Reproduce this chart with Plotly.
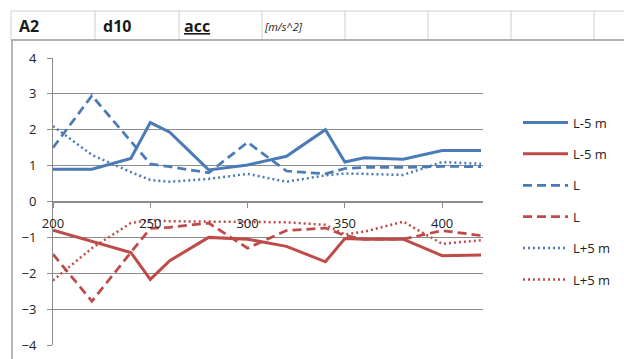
import plotly.graph_objects as go

# Sample positions along the track
x_pos = [200, 220, 240, 250, 260, 280, 300, 320, 340, 350, 360, 380, 400, 420]

# Acceleration [m/s^2] per series
blue_minus5 = [0.9, 0.9, 1.2, 2.2, 1.93, 0.88, 1.02, 1.26, 2.0, 1.1, 1.22, 1.18, 1.42, 1.42]
red_minus5 = [-0.8, -1.1, -1.42, -2.17, -1.65, -1.0, -1.05, -1.25, -1.68, -1.03, -1.05, -1.05, -1.51, -1.49]
blue_centre = [1.5, 2.95, 1.68, 1.05, 0.97, 0.8, 1.65, 0.85, 0.77, 0.92, 0.95, 0.95, 0.98, 0.97]
red_centre = [-1.47, -2.78, -1.42, -0.75, -0.72, -0.6, -1.3, -0.81, -0.74, -0.95, -1.05, -1.05, -0.81, -0.95]
blue_plus5 = [2.1, 1.3, 0.82, 0.6, 0.55, 0.63, 0.77, 0.55, 0.73, 0.78, 0.77, 0.74, 1.1, 1.05]
red_plus5 = [-2.2, -1.3, -0.6, -0.52, -0.55, -0.55, -0.57, -0.58, -0.65, -0.92, -0.84, -0.56, -1.18, -1.08]

legend_names = ["L-5 m", "L-5 m", "L", "L", "L+5 m", "L+5 m"]
x_ticks = [200, 250, 300, 350, 400]
y_ticks = [-4, -3, -2, -1, 0, 1, 2, 3, 4]
header_cells = ["A2", "d10", "<u>acc</u>", "<i>[m/s^2]</i>"]

BLUE = "#4A7BB7"
RED = "#BE4B48"
GRID = "#8C8C8C"
FONT = "Open Sans"

# Figure geometry (pixels); the plot area is set through axis domains
W, H = 624, 359
L, R, T, B = 53, 483, 58, 345


def px(x):
    return x / W


def py(y):
    return 1 - y / H


series = [
    (blue_minus5, BLUE, "solid", 3),
    (red_minus5, RED, "solid", 3),
    (blue_centre, BLUE, "9px,5px", 2.75),
    (red_centre, RED, "9px,5px", 2.75),
    (blue_plus5, BLUE, "2px,3px", 2.5),
    (red_plus5, RED, "2px,3px", 2.5),
]

fig = go.Figure()
for i, (vals, color, dash, width) in enumerate(series):
    fig.add_trace(go.Scatter(
        x=x_pos, y=vals, mode="lines", name=legend_names[i],
        legendgroup=f"g{i}",
        line=dict(color=color, width=width, dash=dash),
    ))

shapes = []
# spreadsheet header row above the chart
shapes.append(dict(type="line", xref="paper", yref="paper",
                   x0=px(11), x1=px(W), y0=py(11), y1=py(11),
                   line=dict(color="#D0D0D0", width=1)))
for cx in [11, 95, 179, 262, 345, 428, 511, 594]:
    shapes.append(dict(type="line", xref="paper", yref="paper",
                       x0=px(cx), x1=px(cx), y0=py(11), y1=py(40),
                       line=dict(color="#D0D0D0", width=1)))
# chart area border
shapes.append(dict(type="line", xref="paper", yref="paper",
                   x0=px(11), x1=px(W), y0=py(40), y1=py(40),
                   line=dict(color="#9A9A9A", width=1.5)))
shapes.append(dict(type="line", xref="paper", yref="paper",
                   x0=px(12), x1=px(12), y0=py(40), y1=py(H),
                   line=dict(color="#A0A0A0", width=1.5)))

annotations = []
header_x = [17, 101, 182, 262]
header_size = [16, 16, 16, 11]
header_bold = [True, True, True, False]
for text, hx, fs, bold in zip(header_cells, header_x, header_size, header_bold):
    annotations.append(dict(
        text=f"<b>{text}</b>" if bold else text,
        xref="paper", yref="paper", x=px(hx), y=py(26),
        xanchor="left", yanchor="middle", showarrow=False,
        font=dict(family=FONT, size=fs, color="#1A1A1A"),
    ))

fig.update_layout(
    width=W, height=H, autosize=False,
    margin=dict(l=0, r=0, t=0, b=0, pad=0, autoexpand=False),
    paper_bgcolor="white", plot_bgcolor="white",
    font=dict(family=FONT, size=13, color="#222222"),
    showlegend=True,
    legend=dict(
        x=px(518), y=py(107.5), xanchor="left", yanchor="top",
        traceorder="grouped", tracegroupgap=11.5,
        font=dict(family=FONT, size=13, color="#222222"),
        itemwidth=45, bgcolor="rgba(0,0,0,0)",
    ),
    xaxis=dict(
        domain=[L / W, R / W], automargin=False,
        range=[200, 421], tickvals=x_ticks, showgrid=False, zeroline=False,
        anchor="free", position=py((T + B) / 2),
        showline=True, linecolor=GRID, linewidth=1,
        ticks="outside", ticklen=5, tickcolor=GRID,
        ticklabelstandoff=5,
        tickfont=dict(family=FONT, size=13, color="#222222"),
    ),
    yaxis=dict(
        domain=[py(B), py(T)], automargin=False,
        range=[-4, 4], tickvals=y_ticks, showgrid=True, gridcolor=GRID,
        gridwidth=1, zeroline=False,
        showline=True, linecolor=GRID, linewidth=1,
        ticks="outside", ticklen=5, tickcolor=GRID,
        ticklabelstandoff=8,
        tickfont=dict(family=FONT, size=13, color="#222222"),
    ),
    shapes=shapes,
    annotations=annotations,
)

fig.write_html("out.html")
